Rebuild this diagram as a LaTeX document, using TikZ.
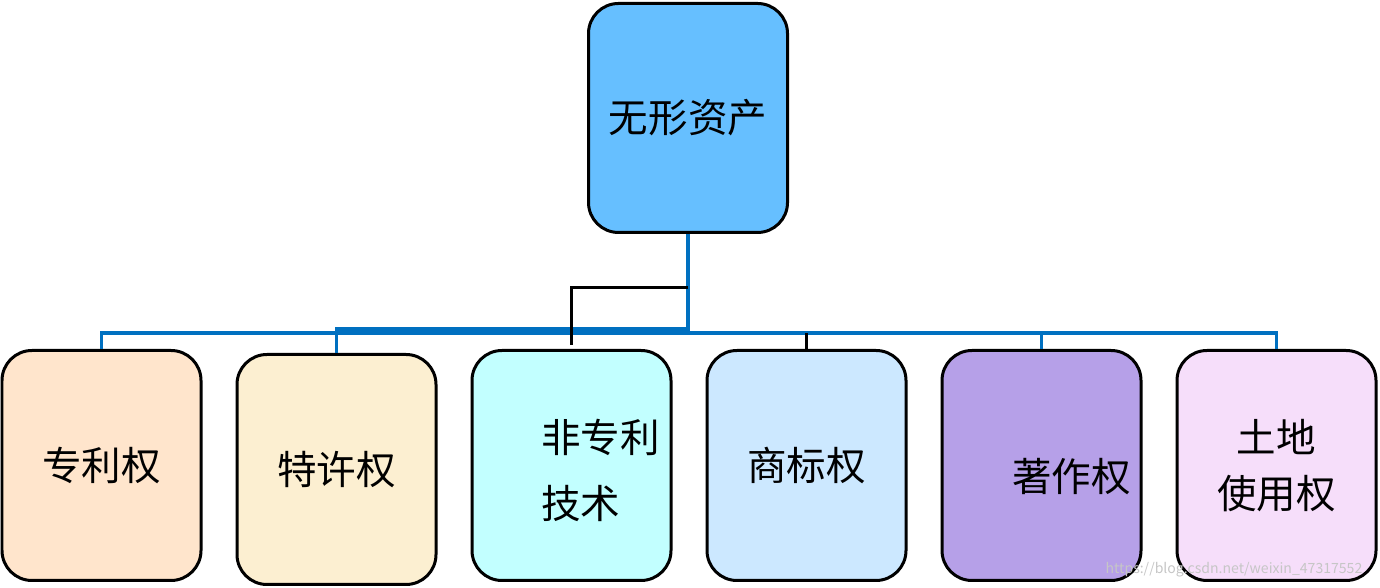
\documentclass[tikz,border=0pt]{standalone}
\usepackage{fontspec}
\setmainfont{Noto Sans CJK SC}
\usepackage{xcolor}
\usetikzlibrary{positioning}

\definecolor{rootblue}{HTML}{66BFFF}
\definecolor{busblue}{HTML}{0070C0}
\definecolor{patentfill}{HTML}{FFE5CC}
\definecolor{franchisefill}{HTML}{FCEFD1}
\definecolor{knowhowfill}{HTML}{C2FFFF}
\definecolor{brandfill}{HTML}{CCE8FF}
\definecolor{copyfill}{HTML}{B6A0E8}
\definecolor{landfill}{HTML}{F6DEFA}

\begin{document}
\begin{tikzpicture}[
		box/.style={rectangle, rounded corners=0.6cm, draw=black, line width=0.06cm, inner sep=0pt, minimum width=3.98cm, font=\fontsize{22.5}{32}\selectfont},
		root/.style={box, fill=rootblue, minimum height=4.58cm},
		leaf/.style={box, minimum height=4.6cm},
		label/.style={inner sep=0pt, font=\fontsize{22.5}{32}\selectfont},
		bus/.style={draw=busblue, line width=0.07cm},
		link/.style={draw=black, line width=0.06cm},
		node distance=0.66cm,
		]
		\useasboundingbox (0,0) rectangle (27.6,11.76);

		%Main Nodes
		\node[root]	(asset)	at (13.76,9.4)	{无形资产};
		\node[leaf, fill=patentfill]	(patent)	at (2.03,2.45)	{专利权};
		\node[leaf, fill=franchisefill, yshift=-0.08cm]	(franchise)	[right=of patent]	{特许权};
		\node[leaf, fill=knowhowfill, yshift=0.08cm]	(knowhow)	[right=of franchise]	{};
		\node[leaf, fill=brandfill]	(brand)		[right=of knowhow]	{商标权};
		\node[leaf, fill=copyfill]	(copyright)	[right=of brand]	{};
		\node[leaf, fill=landfill, align=center]	(land)	[right=of copyright]	{土地\\使用权};

		%Offset Texts
		\node[label, align=left]	(knowhow_txt)	at ([xshift=0.58cm, yshift=-0.1cm]knowhow.center)	{非专利\\[5.5pt]技术};
		\node[label]	(copyright_txt)	at ([xshift=0.6cm, yshift=-0.22cm]copyright.center)	{著作权};

		%Bus Lines
		\coordinate	(bus_l)	at (patent.north |- 0,5.10);
		\coordinate	(bus_r)	at (land.north |- bus_l);
		\coordinate	(bus_t)	at (asset.south |- 0,5.18);
		\draw[bus]	(asset.south) -- (bus_t) -| (franchise.north);
		\draw[bus]	(patent.north) -- (bus_l) -- (bus_r) -- (land.north);
		\draw[bus]	(copyright.north) -- (copyright.north |- bus_l);
		\draw[bus]	(asset.south) -- (asset.south |- bus_l);

		%Black Lines
		\coordinate	(link_t)	at (asset.south |- 0,6.0);
		\draw[link, shorten >=0.08cm]	(link_t) -| (knowhow.north);
		\draw[link]	(brand.north) -- (brand.north |- bus_l);

		%Watermark
		\node[inner sep=0pt, text=gray!45, font=\fontsize{8}{8}\selectfont]	(mark)	at (24.68,0.36)	{https://blog.csdn.net/weixin\_47317552};

	\end{tikzpicture}
\end{document}
